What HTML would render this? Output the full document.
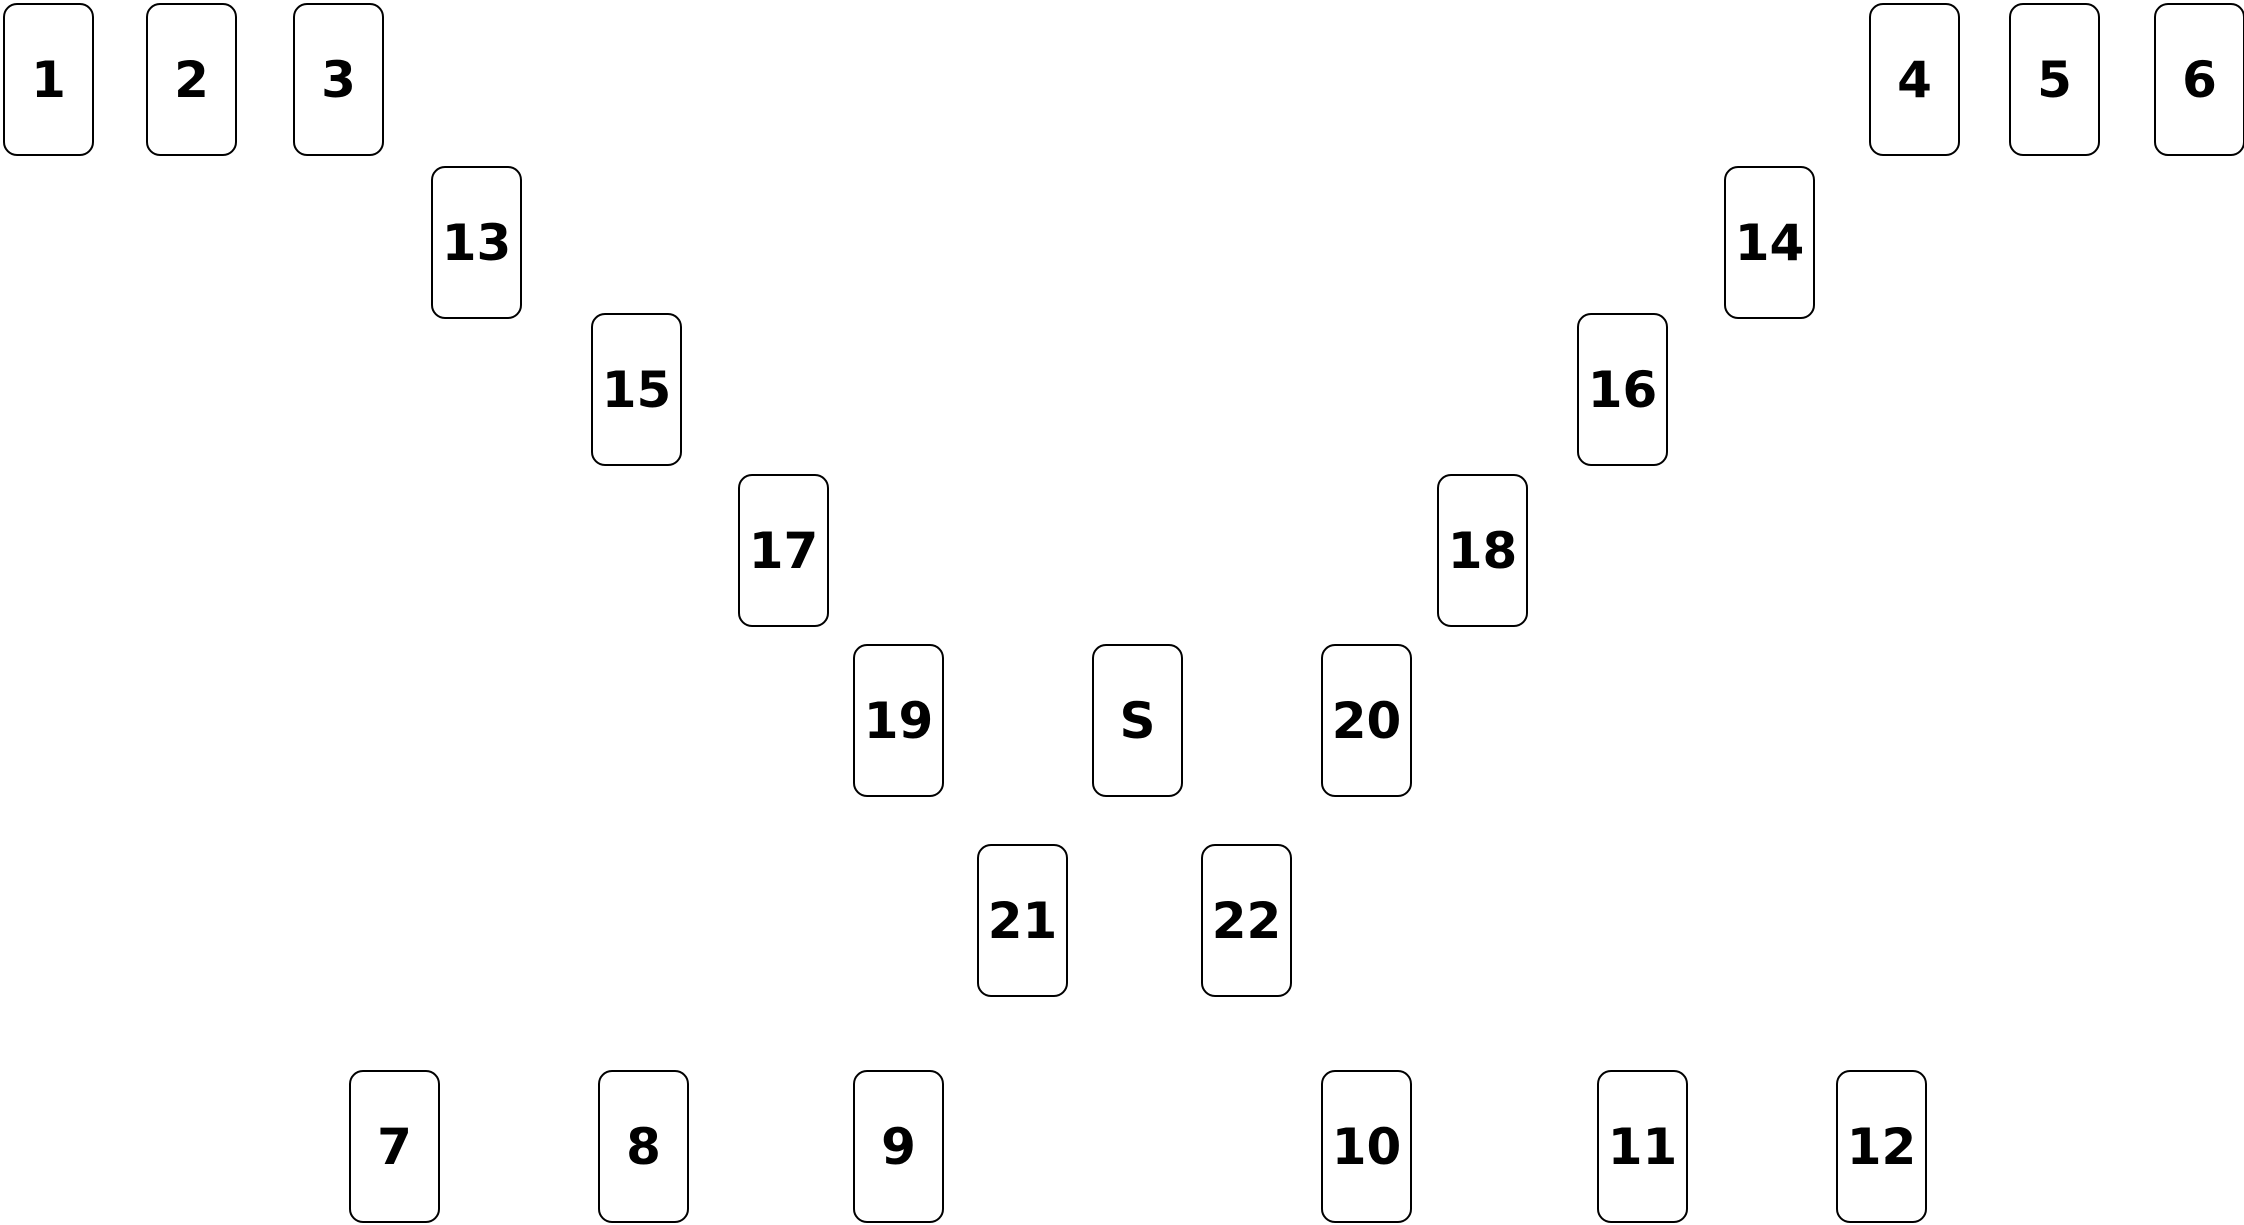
<!DOCTYPE html>
<html><head><style>
html,body{margin:0;padding:0;background:#fff;}
body{width:2244px;height:1225px;position:relative;overflow:hidden;}
.c{position:absolute;width:87px;height:149px;border:2.5px solid #000;border-radius:14px;box-sizing:content-box;
display:flex;align-items:center;justify-content:center;font-family:"DejaVu Sans","Liberation Sans",sans-serif;font-weight:bold;font-size:50px;color:#000;background:#fff;}
</style></head><body>
<div class="c" style="left:3px;top:3px">1</div>
<div class="c" style="left:146px;top:3px">2</div>
<div class="c" style="left:293px;top:3px">3</div>
<div class="c" style="left:1869px;top:3px">4</div>
<div class="c" style="left:2009px;top:3px">5</div>
<div class="c" style="left:2154px;top:3px">6</div>
<div class="c" style="left:431px;top:166px">13</div>
<div class="c" style="left:1724px;top:166px">14</div>
<div class="c" style="left:591px;top:313px">15</div>
<div class="c" style="left:1577px;top:313px">16</div>
<div class="c" style="left:738px;top:474px">17</div>
<div class="c" style="left:1437px;top:474px">18</div>
<div class="c" style="left:853px;top:644px">19</div>
<div class="c" style="left:1092px;top:644px">S</div>
<div class="c" style="left:1321px;top:644px">20</div>
<div class="c" style="left:977px;top:844px">21</div>
<div class="c" style="left:1201px;top:844px">22</div>
<div class="c" style="left:349px;top:1070px">7</div>
<div class="c" style="left:598px;top:1070px">8</div>
<div class="c" style="left:853px;top:1070px">9</div>
<div class="c" style="left:1321px;top:1070px">10</div>
<div class="c" style="left:1597px;top:1070px">11</div>
<div class="c" style="left:1836px;top:1070px">12</div>
</body></html>
